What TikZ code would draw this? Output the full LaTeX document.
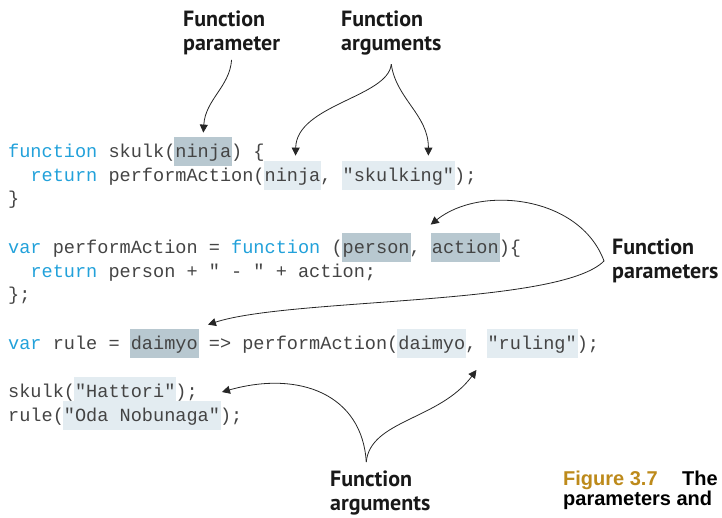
\documentclass[tikz,border=0pt]{standalone}
\usepackage{fontspec}
\usetikzlibrary{arrows.meta}

\newfontfamily\codefont{Liberation Mono}
\newfontfamily\labelfont{PT Sans}
\newfontfamily\capfont{Liberation Sans}

\definecolor{codegray}{HTML}{444444}
\definecolor{keyblue}{HTML}{22A1DA}
\definecolor{paramfill}{HTML}{B8C8D0}
\definecolor{argfill}{HTML}{E3ECF1}
\definecolor{figgold}{HTML}{BD8A1B}

\newcommand{\kw}[1]{\textcolor{keyblue}{#1}}
% shaded box behind code: style, name, baseline, first col, last col
\newcommand{\hlbox}[5]{\node[#1,anchor=south west,minimum width={(#5-#4)*11.15pt+2pt}] (#2) at ({7+#4*11.15},{#3+9}) {};}

\begin{document}
\begin{tikzpicture}[x=1pt,y=-1pt]
\useasboundingbox (0,0) rectangle (722,517);

\tikzstyle{code}=[inner sep=0,anchor=base west,text=codegray,font=\codefont\fontsize{18.58}{22}\selectfont]
\tikzstyle{param}=[fill=paramfill,inner sep=0,minimum height=29pt]
\tikzstyle{arg}=[fill=argfill,inner sep=0,minimum height=29pt]
\tikzstyle{lbl}=[inner sep=0,anchor=north west,align=left,text=black!90,font=\labelfont\bfseries\fontsize{22}{23.5}\selectfont]
\tikzstyle{arr}=[-{Triangle[length=8pt,width=8pt]},line width=0.8pt,draw=black!85]

% shading
\hlbox{param}{ninjaP}{157}{15}{20}
\hlbox{arg}{ninjaA}{181}{23}{28}
\hlbox{arg}{skulkingA}{181}{30}{40}
\hlbox{param}{personP}{253}{30}{36}
\hlbox{param}{actionP}{253}{38}{44}
\hlbox{param}{daimyoP}{349}{11}{17}
\hlbox{arg}{daimyoA}{349}{35}{41}
\hlbox{arg}{rulingA}{349}{43}{51}
\hlbox{arg}{hattoriA}{397}{6}{15}
\hlbox{arg}{odaA}{421}{5}{19}

% code
\node[code] (l1) at (8,157) {\kw{function} skulk(ninja) \{};
\node[code] (l2) at (30.3,181) {\kw{return} performAction(ninja, "skulking");};
\node[code] (l3) at (8,204) {\}};
\node[code] (l4) at (8,253) {\kw{var} performAction = \kw{function} (person, action)\{};
\node[code] (l5) at (30.3,277) {\kw{return} person + " - " + action;};
\node[code] (l6) at (8,300) {\};};
\node[code] (l7) at (8,349) {\kw{var} rule = daimyo => performAction(daimyo, "ruling");};
\node[code] (l8) at (8,397) {skulk("Hattori");};
\node[code] (l9) at (8,421) {rule("Oda Nobunaga");};

% labels
\node[lbl] (paramTop) at (183,11) {Function\\parameter};
\node[lbl] (argTop) at (341,11) {Function\\arguments};
\node[lbl] (paramsR) at (612,239) {Function\\parameters};
\node[lbl] (argBot) at (330,471) {Function\\arguments};

\node[inner sep=0,anchor=base west,text=figgold,font=\capfont\bfseries\fontsize{20}{20}\selectfont] (fig) at (563,485) {Figure 3.7};
\node[inner sep=0,anchor=base west,font=\capfont\bfseries\fontsize{20}{20}\selectfont] (capA) at (682,485) {The};
\node[inner sep=0,anchor=base west,font=\capfont\bfseries\fontsize{20}{20}\selectfont] (capB) at (563,505) {parameters and};

\draw[arr] ([yshift=-5pt]paramTop.south) .. controls +(-2,27) and +(2,-33) .. ([yshift=4pt]ninjaP.north);
\draw[arr] ([yshift=-9pt]argTop.south) .. controls +(-3,33) and +(1,-51) .. ([xshift=3pt,yshift=5pt]ninjaA.north);
\draw[arr] ([yshift=-9pt]argTop.south) .. controls +(5,35) and +(0,-41) .. ([xshift=-27pt,yshift=5pt]skulkingA.north east);
\draw[arr] ([xshift=-8pt]paramsR.west) .. controls +(-24,-65) and +(50,-40) .. ([yshift=8pt]actionP.north west);
\draw[arr] ([xshift=-8pt]paramsR.west) .. controls +(-44,45) and +(83,-27) .. ([xshift=9pt,yshift=4pt]daimyoP.north east);
\draw[arr] ([xshift=-14pt,yshift=9pt]argBot.north) .. controls +(-4,-67) and +(78,-22) .. ([xshift=24pt,yshift=5pt]l8.base east);
\draw[arr] ([xshift=-14pt,yshift=9pt]argBot.north) .. controls +(4,-42) and +(-37,50) .. ([xshift=-10pt,yshift=-12pt]rulingA.south west);
\end{tikzpicture}
\end{document}
